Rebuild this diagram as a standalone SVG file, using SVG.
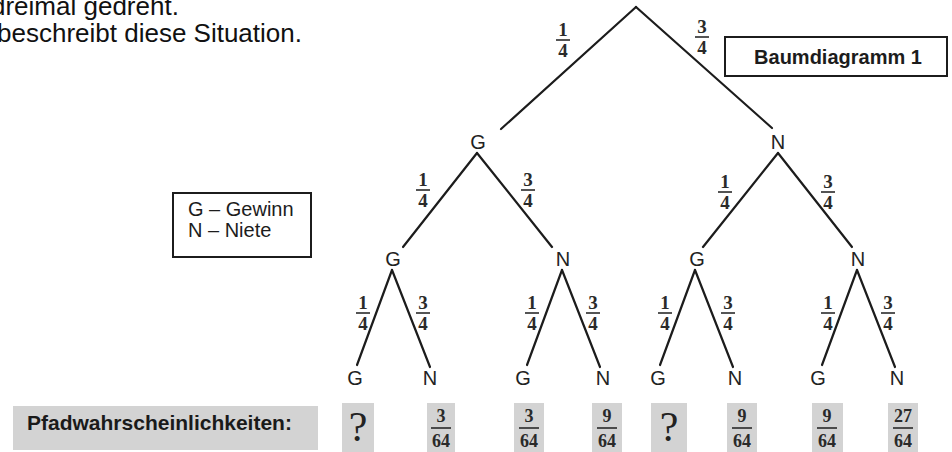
<svg xmlns="http://www.w3.org/2000/svg" width="952" height="452" viewBox="0 0 952 452">
  <style>
    .intro { font-family: "Liberation Sans", Arial, sans-serif; font-size: 26px; fill: #111; }
    .node { font-family: "Liberation Sans", Arial, sans-serif; font-size: 20px; fill: #222; text-anchor: middle; }
    .edge { stroke: #1c1c1c; stroke-width: 2.2; stroke-linecap: round; fill: none; }
    .frac { font-family: "Liberation Serif", "Times New Roman", serif; font-size: 19px; font-weight: bold; fill: #2a2a2a; text-anchor: middle; }
    .bar { stroke: #2a2a2a; stroke-width: 1.6; }
    .box { fill: #fff; stroke: #1c1c1c; stroke-width: 2; }
    .boxlabel { font-family: "Liberation Sans", Arial, sans-serif; font-size: 20px; fill: #1c1c1c; }
    .title { font-family: "Liberation Sans", Arial, sans-serif; font-size: 20px; font-weight: bold; fill: #1c1c1c; text-anchor: middle; }
    .shade { fill: #d3d3d3; }
    .rowlabel { font-family: "Liberation Sans", Arial, sans-serif; font-size: 21px; font-weight: bold; fill: #1a1a1a; }
    .q { font-family: "Liberation Serif", "Times New Roman", serif; font-size: 42px; fill: #222; text-anchor: middle; }
    .pfrac { font-family: "Liberation Serif", "Times New Roman", serif; font-size: 18px; font-weight: bold; fill: #2a2a2a; text-anchor: middle; }
  </style>

  <!-- intro text, partly cut off at the left edge -->
  <text class="intro" x="-9" y="15">dreimal gedreht.</text>
  <text class="intro" x="-3" y="42">beschreibt diese Situation.</text>

  <!-- title box -->
  <g id="title">
    <rect class="box" x="725" y="37" width="222" height="39"/>
    <text class="title" x="838" y="64">Baumdiagramm 1</text>
  </g>

  <!-- legend -->
  <g id="legend">
    <rect class="box" x="173" y="193" width="138" height="64"/>
    <text class="boxlabel" x="188" y="216">G – Gewinn</text>
    <text class="boxlabel" x="188" y="237">N – Niete</text>
  </g>

  <!-- branches -->
  <g id="connectors">
    <line class="edge" x1="636" y1="7" x2="501" y2="129"/>
    <line class="edge" x1="636" y1="7" x2="772" y2="128"/>

    <line class="edge" x1="477" y1="153" x2="403" y2="247"/>
    <line class="edge" x1="477" y1="153" x2="552" y2="247"/>
    <line class="edge" x1="778" y1="153" x2="703" y2="247"/>
    <line class="edge" x1="778" y1="153" x2="852" y2="247"/>

    <line class="edge" x1="392" y1="270" x2="357" y2="365"/>
    <line class="edge" x1="392" y1="270" x2="430" y2="367"/>
    <line class="edge" x1="562" y1="270" x2="527" y2="365"/>
    <line class="edge" x1="562" y1="270" x2="600" y2="367"/>
    <line class="edge" x1="695" y1="270" x2="660" y2="365"/>
    <line class="edge" x1="695" y1="270" x2="733" y2="367"/>
    <line class="edge" x1="857" y1="270" x2="822" y2="365"/>
    <line class="edge" x1="857" y1="270" x2="895" y2="367"/>
  </g>

  <!-- branch probabilities -->
  <g id="probabilities">
    <g transform="translate(563,40)"><text class="frac" y="-4">1</text><line class="bar" x1="-7" x2="7"/><text class="frac" y="17">4</text></g>
    <g transform="translate(702,37)"><text class="frac" y="-4">3</text><line class="bar" x1="-7" x2="7"/><text class="frac" y="17">4</text></g>

    <g transform="translate(423,190)"><text class="frac" y="-4">1</text><line class="bar" x1="-7" x2="7"/><text class="frac" y="17">4</text></g>
    <g transform="translate(528,190)"><text class="frac" y="-4">3</text><line class="bar" x1="-7" x2="7"/><text class="frac" y="17">4</text></g>
    <g transform="translate(725,192)"><text class="frac" y="-4">1</text><line class="bar" x1="-7" x2="7"/><text class="frac" y="17">4</text></g>
    <g transform="translate(828,192)"><text class="frac" y="-4">3</text><line class="bar" x1="-7" x2="7"/><text class="frac" y="17">4</text></g>

    <g transform="translate(363,313)"><text class="frac" y="-4">1</text><line class="bar" x1="-7" x2="7"/><text class="frac" y="17">4</text></g>
    <g transform="translate(423,313)"><text class="frac" y="-4">3</text><line class="bar" x1="-7" x2="7"/><text class="frac" y="17">4</text></g>
    <g transform="translate(532,313)"><text class="frac" y="-4">1</text><line class="bar" x1="-7" x2="7"/><text class="frac" y="17">4</text></g>
    <g transform="translate(593,313)"><text class="frac" y="-4">3</text><line class="bar" x1="-7" x2="7"/><text class="frac" y="17">4</text></g>
    <g transform="translate(665,313)"><text class="frac" y="-4">1</text><line class="bar" x1="-7" x2="7"/><text class="frac" y="17">4</text></g>
    <g transform="translate(728,313)"><text class="frac" y="-4">3</text><line class="bar" x1="-7" x2="7"/><text class="frac" y="17">4</text></g>
    <g transform="translate(828,313)"><text class="frac" y="-4">1</text><line class="bar" x1="-7" x2="7"/><text class="frac" y="17">4</text></g>
    <g transform="translate(888,313)"><text class="frac" y="-4">3</text><line class="bar" x1="-7" x2="7"/><text class="frac" y="17">4</text></g>
  </g>

  <!-- tree nodes -->
  <g id="n-G"><text class="node" x="478" y="149">G</text></g>
  <g id="n-N"><text class="node" x="778" y="149">N</text></g>

  <g id="n-GG"><text class="node" x="393" y="266">G</text></g>
  <g id="n-GN"><text class="node" x="563" y="266">N</text></g>
  <g id="n-NG"><text class="node" x="697" y="266">G</text></g>
  <g id="n-NN"><text class="node" x="858" y="266">N</text></g>

  <g id="n-GGG"><text class="node" x="355" y="385">G</text></g>
  <g id="n-GGN"><text class="node" x="430" y="385">N</text></g>
  <g id="n-GNG"><text class="node" x="523" y="385">G</text></g>
  <g id="n-GNN"><text class="node" x="603" y="385">N</text></g>
  <g id="n-NGG"><text class="node" x="658" y="385">G</text></g>
  <g id="n-NGN"><text class="node" x="735" y="385">N</text></g>
  <g id="n-NNG"><text class="node" x="818" y="385">G</text></g>
  <g id="n-NNN"><text class="node" x="897" y="385">N</text></g>

  <!-- path probabilities row -->
  <g id="path-label">
    <rect class="shade" x="13" y="406" width="305" height="44"/>
    <text class="rowlabel" x="27" y="430">Pfadwahrscheinlichkeiten:</text>
  </g>
  <g id="p-GGG">
    <rect class="shade" x="342" y="403" width="32" height="49"/>
    <text class="q" x="358" y="441">?</text>
  </g>
  <g id="p-GGN" transform="translate(441,428)">
    <rect class="shade" x="-14" y="-25" width="28" height="49"/>
    <text class="pfrac" y="-6">3</text><line class="bar" x1="-10" x2="10"/><text class="pfrac" y="19">64</text>
  </g>
  <g id="p-GNG" transform="translate(529,428)">
    <rect class="shade" x="-15" y="-25" width="30" height="49"/>
    <text class="pfrac" y="-6">3</text><line class="bar" x1="-10" x2="10"/><text class="pfrac" y="19">64</text>
  </g>
  <g id="p-GNN" transform="translate(607,428)">
    <rect class="shade" x="-15" y="-25" width="30" height="49"/>
    <text class="pfrac" y="-6">9</text><line class="bar" x1="-10" x2="10"/><text class="pfrac" y="19">64</text>
  </g>
  <g id="p-NGG">
    <rect class="shade" x="651" y="403" width="36" height="49"/>
    <text class="q" x="669" y="441">?</text>
  </g>
  <g id="p-NGN" transform="translate(742,428)">
    <rect class="shade" x="-15" y="-25" width="30" height="49"/>
    <text class="pfrac" y="-6">9</text><line class="bar" x1="-10" x2="10"/><text class="pfrac" y="19">64</text>
  </g>
  <g id="p-NNG" transform="translate(827,428)">
    <rect class="shade" x="-15" y="-25" width="31" height="49"/>
    <text class="pfrac" y="-6">9</text><line class="bar" x1="-10" x2="10"/><text class="pfrac" y="19">64</text>
  </g>
  <g id="p-NNN" transform="translate(903,428)">
    <rect class="shade" x="-15" y="-25" width="30" height="49"/>
    <text class="pfrac" y="-6">27</text><line class="bar" x1="-10" x2="10"/><text class="pfrac" y="19">64</text>
  </g>
</svg>
